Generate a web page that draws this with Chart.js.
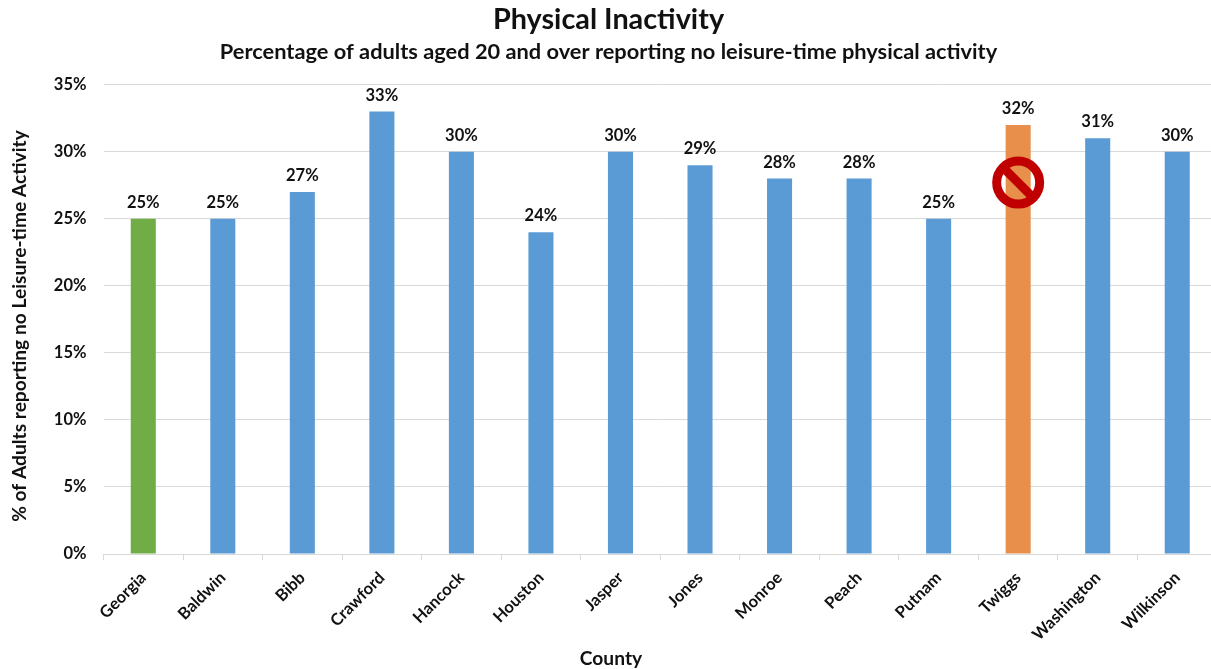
<!DOCTYPE html>
<html>
<head>
<meta charset="utf-8">
<title>Physical Inactivity</title>
<script src="https://cdn.jsdelivr.net/npm/chart.js@4"></script>
<style>
    html, body { margin: 0; padding: 0; background: #fff; overflow: hidden; }
    #wrap { width: 1217px; height: 669px; }
</style>
</head>
<body>
<div id="wrap"><canvas id="inactivityChart"></canvas></div>
<script>
const counties = ["Georgia", "Baldwin", "Bibb", "Crawford", "Hancock", "Houston", "Jasper",
    "Jones", "Monroe", "Peach", "Putnam", "Twiggs", "Washington", "Wilkinson"];
const inactivity = [25, 25, 27, 33, 30, 24, 30, 29, 28, 28, 25, 32, 31, 30];
const barColors = ["#70ad47", "#5b9bd5", "#5b9bd5", "#5b9bd5", "#5b9bd5", "#5b9bd5", "#5b9bd5",
    "#5b9bd5", "#5b9bd5", "#5b9bd5", "#5b9bd5", "#e88f4c", "#5b9bd5", "#5b9bd5"];

// "no" sign sits on the Twiggs bar
const flaggedCounty = "Twiggs";
const flagLevel = 27.7;

const xAxisCaption = "County";
const yAxisCaption = "% of Adults reporting no Leisure-time Activity";

const fontFamily = "Lato, 'Noto Sans', sans-serif";
const textColor = "#111111";
const gridColor = "#d9d9d9";

// Value labels above each bar
const valueLabels = {
    id: "valueLabels",
    afterDatasetsDraw(chart) {
        const { ctx } = chart;
        const meta = chart.getDatasetMeta(0);
        ctx.save();
        ctx.font = `bold 16.5px ${fontFamily}`;
        ctx.fillStyle = textColor;
        ctx.textAlign = "center";
        ctx.textBaseline = "bottom";
        meta.data.forEach((bar, i) => {
            ctx.fillText(`${inactivity[i]}%`, bar.x, bar.y - 8);
        });
        ctx.restore();
    }
};

const noSign = {
    id: "noSign",
    afterDatasetsDraw(chart) {
        const { ctx, scales } = chart;
        const x = scales.x.getPixelForValue(counties.indexOf(flaggedCounty));
        const y = scales.y.getPixelForValue(flagLevel);
        const r = 21.5;
        ctx.save();
        ctx.strokeStyle = "#c00000";
        ctx.lineWidth = 9;
        ctx.beginPath();
        ctx.arc(x, y, r, 0, Math.PI * 2);
        ctx.stroke();
        ctx.beginPath();
        ctx.moveTo(x - r * 0.72, y - r * 0.72);
        ctx.lineTo(x + r * 0.72, y + r * 0.72);
        ctx.stroke();
        ctx.restore();
    }
};

// Axis captions are centred a little off the plot area, so they are placed by hand
const axisCaptions = {
    id: "axisCaptions",
    afterDraw(chart) {
        const { ctx } = chart;
        ctx.save();
        ctx.font = `bold 19.2px ${fontFamily}`;
        ctx.fillStyle = textColor;
        ctx.textAlign = "center";
        ctx.textBaseline = "middle";
        ctx.fillText(xAxisCaption, 611, 659);
        ctx.translate(20, 326);
        ctx.rotate(-Math.PI / 2);
        ctx.fillText(yAxisCaption, 0, 0);
        ctx.restore();
    }
};

const ctx = document.getElementById("inactivityChart").getContext("2d");

new Chart(ctx, {
    type: "bar",
    data: {
        labels: counties,
        datasets: [
            {
                label: yAxisCaption,
                data: inactivity,
                backgroundColor: barColors,
                barPercentage: 0.315,
                categoryPercentage: 1
            }
        ]
    },
    options: {
        responsive: true,
        maintainAspectRatio: false,
        animation: false,
        layout: { padding: { top: 2, bottom: 0, left: 0, right: 0 } },
        plugins: {
            legend: { display: false },
            tooltip: { enabled: false },
            title: {
                display: true,
                text: "Physical Inactivity",
                color: textColor,
                font: { family: fontFamily, size: 28.8, weight: "bold" },
                padding: { top: 0, bottom: 2 }
            },
            subtitle: {
                display: true,
                text: "Percentage of adults aged 20 and over reporting no leisure-time physical activity",
                color: textColor,
                font: { family: fontFamily, size: 21.8, weight: "bold" },
                padding: { top: 0, bottom: 20 }
            }
        },
        scales: {
            x: {
                grid: { drawOnChartArea: false, color: gridColor, tickLength: 6 },
                border: { color: gridColor },
                ticks: {
                    color: textColor,
                    font: { family: fontFamily, size: 16.5, weight: "bold" },
                    maxRotation: 45,
                    minRotation: 45,
                    autoSkip: false,
                    padding: 8
                },
                afterFit(axis) { axis.height = 115; }
            },
            y: {
                min: 0,
                max: 35,
                grid: { color: gridColor, drawTicks: false },
                border: { display: false },
                ticks: {
                    stepSize: 5,
                    color: textColor,
                    font: { family: fontFamily, size: 16.5, weight: "bold" },
                    padding: 17,
                    callback: value => `${value}%`
                },
                afterFit(axis) { axis.width = 103.5; }
            }
        }
    },
    plugins: [valueLabels, noSign, axisCaptions]
});
</script>
</body>
</html>
